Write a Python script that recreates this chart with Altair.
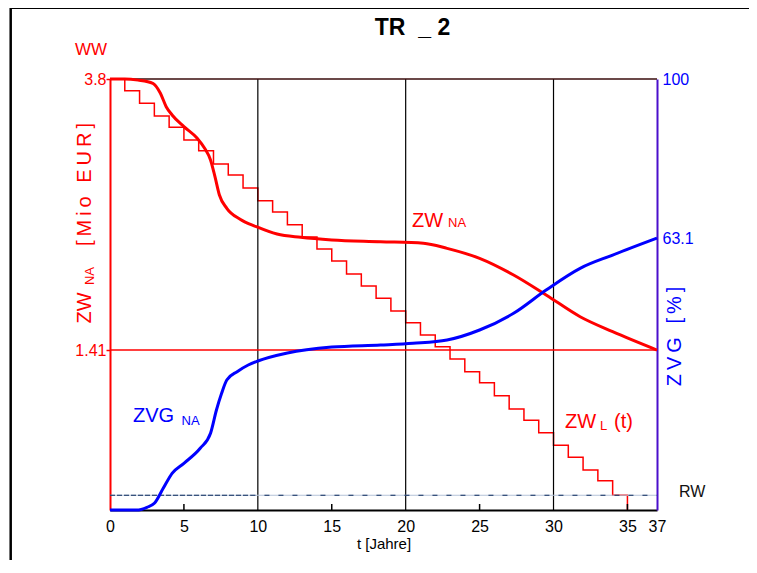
import altair as alt
import pandas as pd

# ---------------- data ----------------
chart_title = "TR\u00a0\u00a0_ 2"
x_ticks = [0, 5, 10, 15, 20, 25, 30, 35, 37]
grid_years = [10, 20, 30]
inner_ticks = [5, 15, 25, 35]
left_ticks = [1.41, 3.8]
right_ticks = [63.1, 100]
rw_value = 0.13
hline_value = 1.41

# ZW_L(t): linear depreciation steps (value valid from year t)
step_t = list(range(0, 36))
step_v = [3.80, 3.697, 3.586, 3.474, 3.374, 3.262, 3.168, 3.051, 2.954, 2.839,
          2.727, 2.627, 2.516, 2.407, 2.301, 2.195, 2.081, 1.975, 1.866, 1.755,
          1.651, 1.543, 1.440, 1.331, 1.219, 1.122, 1.008, 0.891, 0.791, 0.682,
          0.570, 0.465, 0.353, 0.258, 0.130, 0.0]

# ZW_NA (Mio EUR)
zw_t = [0, 1, 1.9, 2.9, 3.4, 3.8, 4.2, 5.0, 5.9, 6.4,
        6.8, 7.1, 7.4, 7.9, 8.8, 9.9, 11.3, 12.9, 15, 18.3,
        21.2, 22.8, 25, 27.3, 29.5, 31.8, 34, 37]
zw_v = [3.80, 3.80, 3.79, 3.762, 3.677, 3.556, 3.483, 3.380, 3.277, 3.189,
        3.086, 2.939, 2.777, 2.660, 2.563, 2.498, 2.433, 2.404, 2.381, 2.366,
        2.352, 2.307, 2.219, 2.072, 1.896, 1.704, 1.572, 1.41]

# ZVG_NA (%)
zvg_t = [0, 1.8, 2.5, 3.0, 3.6, 4.2, 5.0, 6.1, 6.8, 7.2,
         7.55, 7.9, 8.6, 9.35, 10, 12, 15, 18.3, 20.5, 22.8,
         25, 27.3, 29.5, 31.8, 34, 37]
zvg_v = [0, 0, 0.63, 1.55, 5.03, 8.52, 10.84, 14.32, 17.80, 23.2,
         27.08, 30.16, 32.09, 33.64, 34.57, 36.43, 37.8, 38.28, 38.68, 39.44,
         41.76, 45.64, 51.04, 56.08, 59.16, 63.1]

# ---------------- layout / style ----------------
W, H = 547, 431
FONT = "Liberation Sans"
RED = "#ff0000"
BLUE = "#0000ff"
PURPLE = "#4b0fcc"
X0, Y0 = 110, 79          # plot origin on the page
TS = "\u2009"             # thin space for letter spacing

xs = alt.Scale(domain=[0, 37], nice=False, zero=False)
yl = alt.Scale(domain=[0, 3.8], nice=False, zero=False)
yr = alt.Scale(domain=[0, 100], nice=False, zero=False)


def tx(px):  # page px -> years (annotation placement)
    return (px - X0) / W * 37


def vy(py):  # page px -> left-axis value (annotation placement)
    return (Y0 + H - py) / H * 3.8


x_axis = alt.Axis(values=x_ticks, labelFontSize=16, labelColor="black", labelFont=FONT,
                  domainColor="black", domainWidth=2, ticks=False, grid=False,
                  labelPadding=8, labelFlush=False, labelOverlap=False,
                  labelExpr="'' + datum.value",
                  title="t [Jahre]", titleFont=FONT, titleFontSize=15,
                  titleFontWeight="normal", titleColor="black", titlePadding=2)
yl_axis = alt.Axis(orient="left", values=left_ticks, labelExpr="'' + datum.value",
                   labelFontSize=16, labelColor=RED, labelFont=FONT, domainColor=RED,
                   domainWidth=2, tickColor=RED, tickSize=4, tickWidth=1.5,
                   labelPadding=0, grid=False, title=None, labelFlush=False,
                   labelOverlap=False)
yr_axis = alt.Axis(orient="right", values=right_ticks, labelExpr="'' + datum.value",
                   labelFontSize=16, labelColor=BLUE, labelFont=FONT,
                   domainColor=PURPLE, domainWidth=2, ticks=False, labelPadding=5,
                   grid=False, title=None, labelFlush=False, labelOverlap=False)


def X(field):
    return alt.X(field, scale=xs, axis=x_axis)


def YL(field):
    return alt.Y(field, scale=yl, axis=yl_axis)


one = pd.DataFrame({"k": [0]})

step_df = pd.DataFrame({"t": step_t, "v": step_v})
zw_df = pd.DataFrame({"t": zw_t, "v": zw_v})
zvg_df = pd.DataFrame({"t": zvg_t, "v": zvg_v})
grid_df = pd.DataFrame({"t": grid_years})
tick_df = pd.DataFrame({"t": inner_ticks})

# outer frame (decoration)
frame_left = alt.Chart(one).mark_rule(color="black", strokeWidth=2.5).encode(
    x=alt.value(10.7 - X0), y=alt.value(7.8 - Y0), y2=alt.value(H + 80))
frame_top = alt.Chart(one).mark_rule(color="black", strokeWidth=2.5).encode(
    x=alt.value(10.7 - X0), x2=alt.value(W + 120), y=alt.value(7.8 - Y0))

grid = alt.Chart(grid_df).mark_rule(color="black", strokeWidth=1.2).encode(x=X("t:Q"))

rw_light = alt.Chart(pd.DataFrame({"a": [0], "b": [37], "v": [rw_value]})).mark_rule(
    color="#b4c2d8", strokeWidth=1).encode(x=X("a:Q"), x2="b:Q", y=YL("v:Q"))
rw_dense = alt.Chart(pd.DataFrame({"a": [0], "b": [9.5], "v": [rw_value]})).mark_rule(
    color="#0b2a5c", strokeWidth=1.2, strokeDash=[5, 2]).encode(
    x=X("a:Q"), x2="b:Q", y=YL("v:Q"))
rw_sparse = alt.Chart(pd.DataFrame({"a": [9.5], "b": [37], "v": [rw_value]})).mark_rule(
    color="#0b2a5c", strokeWidth=1.2, strokeDash=[5, 9]).encode(
    x=X("a:Q"), x2="b:Q", y=YL("v:Q"))

hline = alt.Chart(pd.DataFrame({"v": [hline_value]})).mark_rule(
    color=RED, strokeWidth=1.5).encode(y=YL("v:Q"))
topline = alt.Chart(pd.DataFrame({"v": [3.8]})).mark_rule(
    color="#3a0c0c", strokeWidth=1.5).encode(y=YL("v:Q"))

step_line = alt.Chart(step_df).mark_line(
    color=RED, strokeWidth=1.5, interpolate="step-after").encode(
    x=X("t:Q"), y=YL("v:Q"))

zw_line = alt.Chart(zw_df).mark_line(
    color=RED, strokeWidth=3, interpolate="monotone").encode(x=X("t:Q"), y=YL("v:Q"))

in_ticks = alt.Chart(tick_df).mark_rule(color="black", strokeWidth=1.5).encode(
    x=X("t:Q"), y=alt.value(H), y2=alt.value(H - 6))


def txt(s, t, v, size, color, align="left", baseline="alphabetic", angle=0,
        weight="normal"):
    df = pd.DataFrame({"t": [t], "v": [v], "s": [s]})
    return alt.Chart(df).mark_text(
        align=align, baseline=baseline, angle=angle, fontSize=size, color=color,
        font=FONT, fontWeight=weight).encode(x=X("t:Q"), y=YL("v:Q"), text="s:N")


texts = [
    txt(chart_title, tx(412.5), vy(35), 23, "black", align="center", weight="bold"),
    txt("WW", tx(75), vy(55), 17, RED),
    txt("ZW", tx(85), vy(308), 20, RED, align="center", baseline="middle", angle=270),
    txt("NA", tx(90), vy(276), 13, RED, align="center", baseline="middle", angle=270),
    txt(TS.join("[Mio") + TS + " " + TS + TS.join("EUR]"), tx(85), vy(184.5), 20, RED,
        align="center", baseline="middle", angle=270),
    txt(TS.join("ZVG") + TS + " " + TS + TS.join("[%]"), tx(675), vy(336.5), 20, BLUE,
        align="center", baseline="middle", angle=270),
    txt("ZW", tx(412), vy(227), 20, RED),
    txt("NA", tx(448), vy(227), 13, RED),
    txt("ZVG", tx(133), vy(422), 20, BLUE),
    txt("NA", tx(181.5), vy(425), 13, BLUE),
    txt("ZW", tx(565), vy(428.3), 20, RED),
    txt("L", tx(600), vy(430), 13, RED),
    txt("(t)", tx(614), vy(428.3), 20, RED),
    txt("RW", tx(679), vy(496.7), 16, "#111111"),
]

left = alt.layer(step_line, frame_left, frame_top, grid, rw_light, rw_dense, rw_sparse,
                 hline, topline, zw_line, in_ticks, *texts)

zvg_line = alt.Chart(zvg_df).mark_line(
    color=BLUE, strokeWidth=3, interpolate="monotone").encode(
    x=X("t:Q"), y=alt.Y("v:Q", scale=yr, axis=yr_axis))
right = alt.layer(zvg_line)

chart = alt.layer(left, right).resolve_scale(y="independent").properties(
    width=W, height=H,
    padding={"left": X0 - 8, "top": Y0 - 8, "right": 92, "bottom": 50},
    autosize=alt.AutoSizeParams(type="none"),
    background="white",
).configure_view(stroke=None)

chart.save("out.html", embed_options={"renderer": "svg", "actions": False})
